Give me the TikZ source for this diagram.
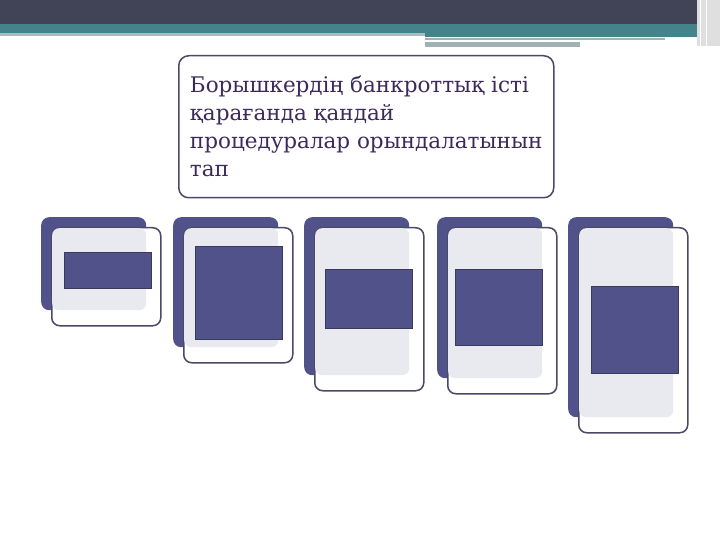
\documentclass[tikz,border=0pt]{standalone}
\usepackage{fontspec}
\setmainfont{DejaVu Serif}
\usetikzlibrary{positioning}

\definecolor{bannerdark}{RGB}{65,67,86}
\definecolor{bannerteal}{RGB}{69,131,138}
\definecolor{bannerline}{RGB}{169,188,194}
\definecolor{bannergray}{RGB}{160,178,180}
\definecolor{cardback}{RGB}{82,82,138}
\definecolor{cardface}{RGB}{233,234,240}
\definecolor{cardedge}{RGB}{74,74,102}
\definecolor{boxedge}{RGB}{58,58,92}
\definecolor{titletext}{RGB}{60,42,90}

\begin{document}
\begin{tikzpicture}[x=1pt,y=-1pt]
        % Setup the styles for the cards
        \tikzset{back style/.style={rectangle, rounded corners=8pt,
                                    anchor=north west, inner sep=0pt,
                                    minimum width=105pt, fill=cardback},
                 edge style/.style={rectangle, rounded corners=8pt,
                                    anchor=north west, inner sep=0pt,
                                    minimum width=109pt, fill=white,
                                    draw=cardedge, line width=1.5pt},
                 face style/.style={rectangle, rounded corners=7pt,
                                    anchor=north west, inner sep=0pt,
                                    minimum width=94pt, fill=cardface},
                 box style/.style={rectangle, anchor=north west,
                                   inner sep=0pt, minimum width=87pt,
                                   fill=cardback, draw=boxedge, line width=1pt},
                 title style/.style={rectangle, rounded corners=10pt,
                                     anchor=north west, draw=cardedge,
                                     line width=1.5pt, fill=white,
                                     minimum width=375pt, minimum height=142pt,
                                     inner xsep=10pt,
                                     align=left, text=titletext,
                                     font=\fontsize{21.5}{28}\selectfont}}

        \useasboundingbox (0,0) rectangle (720,540);

        % Draw the banner
        \fill[bannerdark] (0,0) rectangle (720,24);
        \fill[bannerteal] (0,24) rectangle (720,33);
        \fill[bannerline] (0,33) rectangle (425,36);
        \fill[bannerteal] (425,33) rectangle (720,37);
        \fill[bannergray] (425,38) rectangle (665,40);
        \fill[bannergray] (425,42) rectangle (580,47);
        \fill[gray!25] (697,0) rectangle (720,46);
        \draw[white, line width=0.8pt] (700,0) -- (700,46) (706,0) -- (706,46);

        % Draw the title
        \node[title style] (title) at (178,55)
            {Борышкердің банкроттық істі\\
             қарағанда қандай\\
             процедуралар орындалатынын\\
             тап};

        % Draw the cards
        \foreach \i/\x/\h/\ix/\iy/\ih in {1/41/93/64/252/36,
                                          2/173/130/195/246/93,
                                          3/304/158/325/269/59,
                                          4/437/161/455/269/76,
                                          5/568/200/591/286/87}{
            \node[back style, minimum height=\h] (back\i) at (\x,217) {};
            \node[edge style, minimum height=\h+5] (edge\i) at (\x+10,227) {};
            \node[face style, minimum height=\h-11] (face\i) at (\x+11,228) {};
            \node[box style, minimum height=\ih] (box\i) at (\ix,\iy) {};
        }
\end{tikzpicture}
\end{document}
